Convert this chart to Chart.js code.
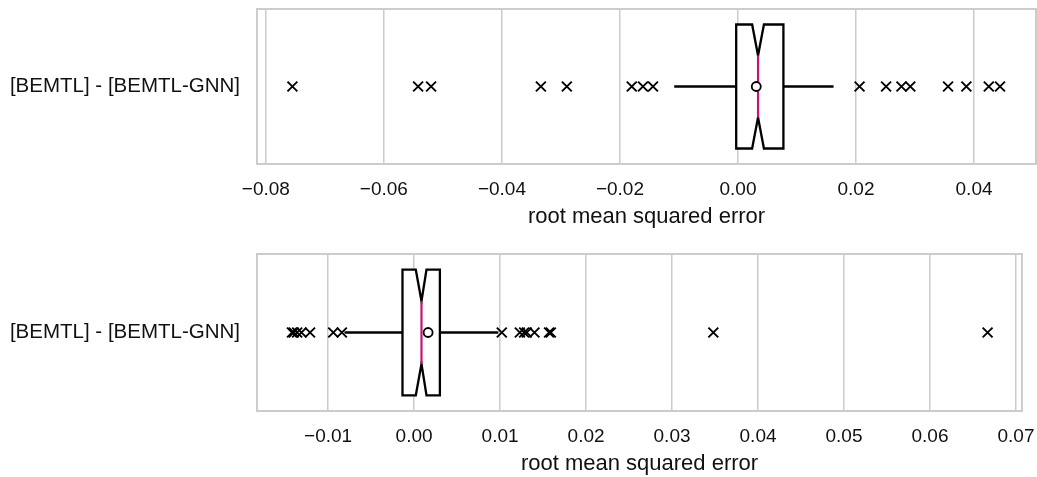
<!DOCTYPE html>
<html>
<head>
<meta charset="utf-8">
<script src="https://cdn.jsdelivr.net/npm/chart.js@4.4.1/dist/chart.umd.min.js"></script>
<style>
  body { margin: 0; background: #fff; }
  canvas { position: absolute; left: 0; }
</style>
</head>
<body>
<canvas id="chartTop" width="1037" height="238" style="top:0px"></canvas>
<canvas id="chartBottom" width="1037" height="239" style="top:238px"></canvas>
<script>
const categories = ['[BEMTL] - [BEMTL-GNN]'];
const axisTitle = 'root mean squared error';

// box stats: whisker lo, q1, notch lo, median, notch hi, q3, whisker hi
const statsTop = [-0.0108, -0.0003, 0.0024, 0.0034, 0.0044, 0.0077, 0.0162];
const meanTop = [0.0031];
const outliersTop = [-0.0755, -0.0542, -0.0520, -0.0334, -0.0290, -0.0180, -0.0161, -0.0144,
                     0.0206, 0.0251, 0.0277, 0.0292, 0.0356, 0.0387, 0.0425, 0.0444];
const rangeTop = [-0.0815, 0.0505];
const ticksTop = [-0.08, -0.06, -0.04, -0.02, 0, 0.02, 0.04];

const statsBottom = [-0.0081, -0.00135, 0.0002, 0.00086, 0.00144, 0.0030, 0.0098];
const meanBottom = [0.00163];
const outliersBottom = [-0.0142, -0.0140, -0.0136, -0.0131, -0.0121, -0.0094, -0.0084,
                        0.0102, 0.0123, 0.0128, 0.0131, 0.0140, 0.0157, 0.0159, 0.0348, 0.0667];
const rangeBottom = [-0.01827, 0.0707];
const ticksBottom = [-0.01, 0, 0.01, 0.02, 0.03, 0.04, 0.05, 0.06, 0.07];

const FONT = '"Liberation Sans", Arial, sans-serif';
const GRID = '#cccccc';
const MEDIAN_COLOR = '#c8146e';
const TEXT = '#111111';

// rahmen + box mit notch, vor den punkten gezeichnet
const notchBoxPlugin = {
    id: 'notchBox',
    beforeDatasetsDraw(chart, args, opts) {
        const {ctx, chartArea: a, scales: {x, y}} = chart;
        const [wlo, q1, nlo, med, nhi, q3, whi] = opts.stats.map(v => x.getPixelForValue(v));
        const yc = y.getPixelForValue(0);
        const h = 0.4 * (a.bottom - a.top);

        ctx.save();
        // frame
        ctx.strokeStyle = GRID;
        ctx.lineWidth = 2;
        ctx.strokeRect(a.left, a.top, a.right - a.left, a.bottom - a.top);

        // whiskers
        ctx.strokeStyle = '#000';
        ctx.lineWidth = 2.3;
        ctx.beginPath();
        ctx.moveTo(wlo, yc); ctx.lineTo(q1, yc);
        ctx.moveTo(q3, yc); ctx.lineTo(whi, yc);
        ctx.stroke();

        // notched box
        ctx.beginPath();
        ctx.moveTo(q1, yc - h);
        ctx.lineTo(nlo, yc - h);
        ctx.lineTo(med, yc - h / 2);
        ctx.lineTo(nhi, yc - h);
        ctx.lineTo(q3, yc - h);
        ctx.lineTo(q3, yc + h);
        ctx.lineTo(nhi, yc + h);
        ctx.lineTo(med, yc + h / 2);
        ctx.lineTo(nlo, yc + h);
        ctx.lineTo(q1, yc + h);
        ctx.closePath();
        ctx.fillStyle = '#fff';
        ctx.fill();
        ctx.lineJoin = 'miter';
        ctx.stroke();

        // median
        ctx.strokeStyle = MEDIAN_COLOR;
        ctx.lineWidth = 2.2;
        ctx.beginPath();
        ctx.moveTo(med, yc - h / 2);
        ctx.lineTo(med, yc + h / 2);
        ctx.stroke();
        ctx.restore();
    }
};

function fmtTick(v) {
    if (Math.abs(v) < 1e-9) return '0.00';
    return (v < 0 ? '\u2212' : '') + Math.abs(v).toFixed(2);
}

function makeChart(id, stats, mean, outliers, range, tickVals, lay) {
    return new Chart(document.getElementById(id), {
        type: 'scatter',
        data: {
            datasets: [
                {
                    data: mean.map(v => ({x: v, y: categories[0]})),
                    pointStyle: 'circle',
                    radius: 4.5,
                    borderWidth: 1.8,
                    borderColor: '#000',
                    backgroundColor: '#fff'
                },
                {
                    data: outliers.map(v => ({x: v, y: categories[0]})),
                    pointStyle: 'crossRot',
                    radius: 7,
                    borderWidth: 1.9,
                    borderColor: '#000'
                }
            ]
        },
        options: {
            responsive: false,
            animation: false,
            events: [],
            layout: {
                autoPadding: false,
                padding: { top: lay.top, right: lay.right, bottom: 0, left: 0 }
            },
            plugins: {
                legend: { display: false },
                tooltip: { enabled: false },
                notchBox: { stats: stats }
            },
            scales: {
                x: {
                    type: 'linear',
                    min: range[0],
                    max: range[1],
                    border: { display: false },
                    grid: { color: GRID, lineWidth: 1.5, drawTicks: false },
                    afterBuildTicks: s => { s.ticks = tickVals.map(v => ({value: v})); },
                    ticks: {
                        padding: 14,
                        color: TEXT,
                        font: { family: FONT, size: 19 },
                        callback: v => fmtTick(v),
                        maxRotation: 0,
                        autoSkip: false
                    },
                    title: {
                        display: true,
                        text: axisTitle,
                        color: TEXT,
                        font: { family: FONT, size: 22 },
                        padding: { top: 0, bottom: lay.titleBottom }
                    },
                    afterFit: s => {
                        s.height = lay.xh;
                        s.paddingLeft = 0;
                        s.paddingRight = 0;
                    }
                },
                y: {
                    type: 'category',
                    labels: categories,
                    offset: true,
                    border: { display: false },
                    grid: { display: false, drawTicks: false },
                    ticks: {
                        padding: 17,
                        color: TEXT,
                        font: { family: FONT, size: 20.5 }
                    },
                    afterFit: s => {
                        s.width = 257;
                        s.paddingTop = 0;
                        s.paddingBottom = 0;
                    }
                }
            }
        },
        plugins: [notchBoxPlugin]
    });
}

makeChart('chartTop', statsTop, meanTop, outliersTop, rangeTop, ticksTop,
    { top: 9, right: 1, xh: 74, titleBottom: 8 });
makeChart('chartBottom', statsBottom, meanBottom, outliersBottom, rangeBottom, ticksBottom,
    { top: 16, right: 15, xh: 66, titleBottom: 0 });
</script>
</body>
</html>
